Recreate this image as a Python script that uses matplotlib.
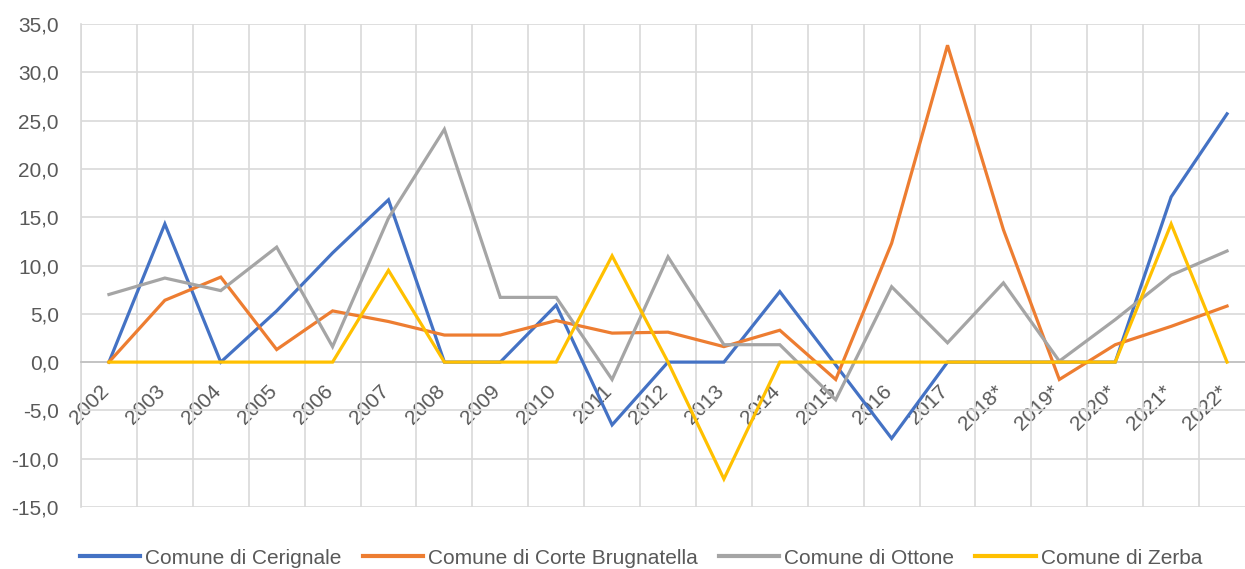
import matplotlib
matplotlib.use("Agg")
import matplotlib.pyplot as plt
from matplotlib.ticker import FuncFormatter, FixedLocator
from matplotlib.transforms import ScaledTranslation

plt.rcParams['font.family'] = ['Liberation Sans', 'DejaVu Sans']

years = ["2002", "2003", "2004", "2005", "2006", "2007", "2008", "2009", "2010",
         "2011", "2012", "2013", "2014", "2015", "2016", "2017", "2018*", "2019*",
         "2020*", "2021*", "2022*"]

cerignale = [0.0, 14.3, 0.0, 5.3, 11.3, 16.8, 0.0, 0.0, 5.9, -6.5, 0.0, 0.0,
             7.3, -0.3, -7.9, 0.0, 0.0, 0.0, 0.0, 17.1, 25.7]
corte_brugnatella = [0.0, 6.4, 8.8, 1.3, 5.3, 4.2, 2.8, 2.8, 4.3, 3.0, 3.1, 1.6,
                     3.3, -1.8, 12.3, 32.8, 13.7, -1.8, 1.8, 3.7, 5.8]
ottone = [7.0, 8.7, 7.4, 11.9, 1.6, 14.9, 24.1, 6.7, 6.7, -1.8, 10.9, 1.8,
          1.8, -3.9, 7.8, 2.0, 8.2, 0.1, 4.4, 9.0, 11.5]
zerba = [0.0, 0.0, 0.0, 0.0, 0.0, 9.5, 0.0, 0.0, 0.0, 11.0, 0.0, -12.1,
         0.0, 0.0, 0.0, 0.0, 0.0, 0.0, 0.0, 14.3, 0.0]

series = [
    ("Comune di Cerignale", cerignale, "#4472C4"),
    ("Comune di Corte Brugnatella", corte_brugnatella, "#ED7D31"),
    ("Comune di Ottone", ottone, "#A5A5A5"),
    ("Comune di Zerba", zerba, "#FFC000"),
]

W, H = 1245, 569
fig = plt.figure(figsize=(W / 100, H / 100), dpi=100)
left, right = 81 / W, 1255 / W
bottom, top = (H - 507) / H, (H - 24) / H
ax = fig.add_axes([left, bottom, right - left, top - bottom])

x = list(range(len(years)))
for name, vals, col in series:
    ax.plot(x, vals, color=col, lw=2.3, label=name, solid_joinstyle='miter', zorder=3)

ax.set_xlim(-0.5, len(years) - 0.5)
ax.set_ylim(-15, 35)
ax.set_yticks(range(-15, 36, 5))
ax.yaxis.set_major_formatter(FuncFormatter(lambda v, p: f"{v:.1f}".replace('.', ',')))

grid_c = "#D9D9D9"
ax.grid(axis='y', color=grid_c, lw=1.2, zorder=0)
ax.xaxis.set_minor_locator(FixedLocator([i - 0.5 for i in range(len(years) + 1)]))
ax.grid(axis='x', which='minor', color=grid_c, lw=1.2, zorder=0)

for s in ['top', 'right']:
    ax.spines[s].set_visible(False)
ax.spines['left'].set_color(grid_c)
ax.spines['left'].set_linewidth(1.2)
ax.spines['bottom'].set_position(('data', 0))
ax.spines['bottom'].set_color("#BFBFBF")
ax.spines['bottom'].set_linewidth(1.2)

ax.set_xticks(x)
ax.set_xticklabels(years, rotation=45, ha='right', va='top')
ax.tick_params(axis='x', which='both', length=0, pad=14, labelsize=15, labelcolor="#595959")
ax.tick_params(axis='y', length=0, pad=16, labelsize=15, labelcolor="#595959")
off = ScaledTranslation(4 / 100, 0, fig.dpi_scale_trans)
for lab in ax.get_xticklabels():
    lab.set_transform(lab.get_transform() + off)

leg = fig.legend(loc='center', bbox_to_anchor=(641 / W, 1 - 558 / H), ncol=4,
                 frameon=False, fontsize=15, handlelength=2.9, handletextpad=0.25,
                 columnspacing=1.0, labelcolor="#595959")
for l in leg.get_lines():
    l.set_linewidth(3)

fig.savefig("out.png", dpi=100)
